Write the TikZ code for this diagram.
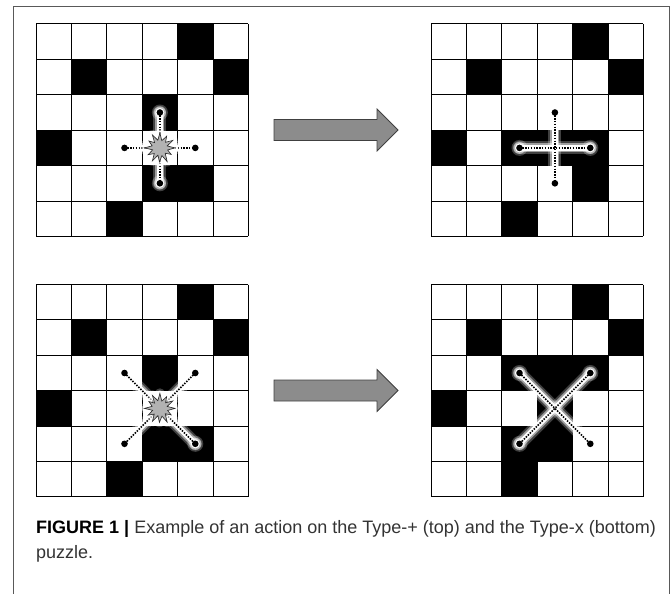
\documentclass[tikz,border=0pt]{standalone}
\usepackage{fontspec}
\setmainfont{Liberation Sans}
\begin{document}
\begin{tikzpicture}[x=1pt,y=-1pt]
\def\s{35.4}
\useasboundingbox (0,0) rectangle (672,594);
\tikzset{
  cellgrid/.style={draw=black, line width=1pt},
  frameline/.style={draw=black!65, line width=0.9pt},
  bigarrow/.style={fill=black!45, draw=black!75, line width=0.8pt, line join=miter},
  glowA/.style={draw=white, opacity=0.25, line width=13pt, line cap=round},
  glowB/.style={draw=white, opacity=0.5, line width=9pt, line cap=round},
  glowC/.style={draw=white, line width=5.5pt, line cap=round},
  dotline/.style={draw=black, line width=1.6pt, dash pattern=on 1.5pt off 1.3pt},
  enddot/.style={fill=black},
  burst/.style={fill=black!30, draw=black!85, line width=0.6pt, line join=miter},
  captext/.style={anchor=base west, inner sep=0pt, font=\fontsize{18}{22}\selectfont, text=black!80}
}
\newcommand\puzzle[3]{%
  \foreach \r/\c in {#3} \fill[black] ({#1+\c*\s},{#2+\r*\s}) rectangle ++(\s,\s);
  \foreach \i in {0,...,6} {
    \draw[cellgrid] ({#1+\i*\s},#2) -- ++(0,{6*\s});
    \draw[cellgrid] (#1,{#2+\i*\s}) -- ++({6*\s},0);
  }
}
\newcommand\glowline[2]{%
  \draw[glowA] (#1) -- (#2);
  \draw[glowB] (#1) -- (#2);
  \draw[glowC] (#1) -- (#2);
}
\newcommand\dotglow[1]{%
  \fill[white, opacity=0.25] (#1) circle (8pt);
  \fill[white, opacity=0.5] (#1) circle (6pt);
  \fill[white] (#1) circle (4.5pt);
}
\newcommand\starpath{(0:15) -- (15:8) -- (30:13) -- (45:7.5) -- (62:15.5) -- (75:8) -- (92:14) -- (105:7.5) -- (120:15) -- (135:8) -- (150:13.5) -- (165:7.5) -- (180:15.5) -- (195:8) -- (212:13) -- (225:7.5) -- (240:15) -- (255:8) -- (270:15) -- (285:7.5) -- (300:13.5) -- (315:8) -- (330:15) -- (345:7.5) -- cycle}
\newcommand\burst[1]{%
  \begin{scope}[shift={(#1)}]
    \draw[draw=white, opacity=0.25, line width=10pt, line join=round] \starpath;
    \draw[draw=white, opacity=0.5, line width=6pt, line join=round] \starpath;
    \draw[burst] \starpath;
  \end{scope}
}

% frame
\draw[frameline] (13,594) -- (13,6) -- (669,6) -- (669,594);

% ---------- top-left: Type-+ before ----------
\puzzle{36}{24}{0/4,1/1,1/5,2/3,3/0,4/3,4/4,5/2}
\coordinate (aN) at ({36+3.5*\s},{24+2.5*\s});
\coordinate (aS) at ({36+3.5*\s},{24+4.5*\s});
\coordinate (aW) at ({36+2.5*\s},{24+3.5*\s});
\coordinate (aE) at ({36+4.5*\s},{24+3.5*\s});
\coordinate (aC) at ({36+3.5*\s},{24+3.5*\s});
\glowline{aN}{aS}\glowline{aW}{aE}
\dotglow{aN}\dotglow{aS}
\draw[dotline] (aN) -- (aS);
\draw[dotline] (aW) -- (aE);
\foreach \p in {aN,aS,aW,aE} \fill[enddot] (\p) circle (3.3pt);
\burst{aC}

% ---------- top-right: Type-+ after ----------
\puzzle{431}{24}{0/4,1/1,1/5,3/0,3/2,3/3,3/4,4/4,5/2}
\coordinate (bN) at ({431+3.5*\s},{24+2.5*\s});
\coordinate (bS) at ({431+3.5*\s},{24+4.5*\s});
\coordinate (bW) at ({431+2.5*\s},{24+3.5*\s});
\coordinate (bE) at ({431+4.5*\s},{24+3.5*\s});
\glowline{bN}{bS}\glowline{bW}{bE}
\dotglow{bW}\dotglow{bE}
\draw[dotline] (bN) -- (bS);
\draw[dotline] (bW) -- (bE);
\foreach \p in {bN,bS,bW,bE} \fill[enddot] (\p) circle (3.3pt);

% ---------- bottom-left: Type-x before ----------
\puzzle{36}{284.5}{0/4,1/1,1/5,2/3,3/0,4/3,4/4,5/2}
\coordinate (cNW) at ({36+2.5*\s},{284.5+2.5*\s});
\coordinate (cNE) at ({36+4.5*\s},{284.5+2.5*\s});
\coordinate (cSW) at ({36+2.5*\s},{284.5+4.5*\s});
\coordinate (cSE) at ({36+4.5*\s},{284.5+4.5*\s});
\coordinate (cC) at ({36+3.5*\s},{284.5+3.5*\s});
\glowline{cNW}{cSE}\glowline{cNE}{cSW}
\dotglow{cSE}
\draw[dotline] (cNW) -- (cSE);
\draw[dotline] (cNE) -- (cSW);
\foreach \p in {cNW,cNE,cSW,cSE} \fill[enddot] (\p) circle (3.3pt);
\burst{cC}

% ---------- bottom-right: Type-x after ----------
\puzzle{431}{284.5}{0/4,1/1,1/5,2/2,2/3,2/4,3/0,3/3,4/2,4/3,5/2}
\coordinate (dNW) at ({431+2.5*\s},{284.5+2.5*\s});
\coordinate (dNE) at ({431+4.5*\s},{284.5+2.5*\s});
\coordinate (dSW) at ({431+2.5*\s},{284.5+4.5*\s});
\coordinate (dSE) at ({431+4.5*\s},{284.5+4.5*\s});
\glowline{dNW}{dSE}\glowline{dNE}{dSW}
\dotglow{dNW}\dotglow{dNE}\dotglow{dSW}
\draw[dotline] (dNW) -- (dSE);
\draw[dotline] (dNE) -- (dSW);
\foreach \p in {dNW,dNE,dSW,dSE} \fill[enddot] (\p) circle (3.3pt);

% ---------- arrows ----------
\draw[bigarrow] (274,119.5) -- (377,119.5) -- (377,109) -- (398,130) -- (377,151) -- (377,140.5) -- (274,140.5) -- cycle;
\draw[bigarrow] (274,380) -- (377,380) -- (377,369.5) -- (398,390.5) -- (377,411.5) -- (377,401) -- (274,401) -- cycle;

% ---------- caption ----------
\node[captext] (cap1) at (36,533) {\textbf{\color{black}FIGURE 1 |} Example of an action on the Type-+ (top) and the Type-x (bottom)};
\node[captext] (cap2) at (36,558) {puzzle.};
\end{tikzpicture}
\end{document}
